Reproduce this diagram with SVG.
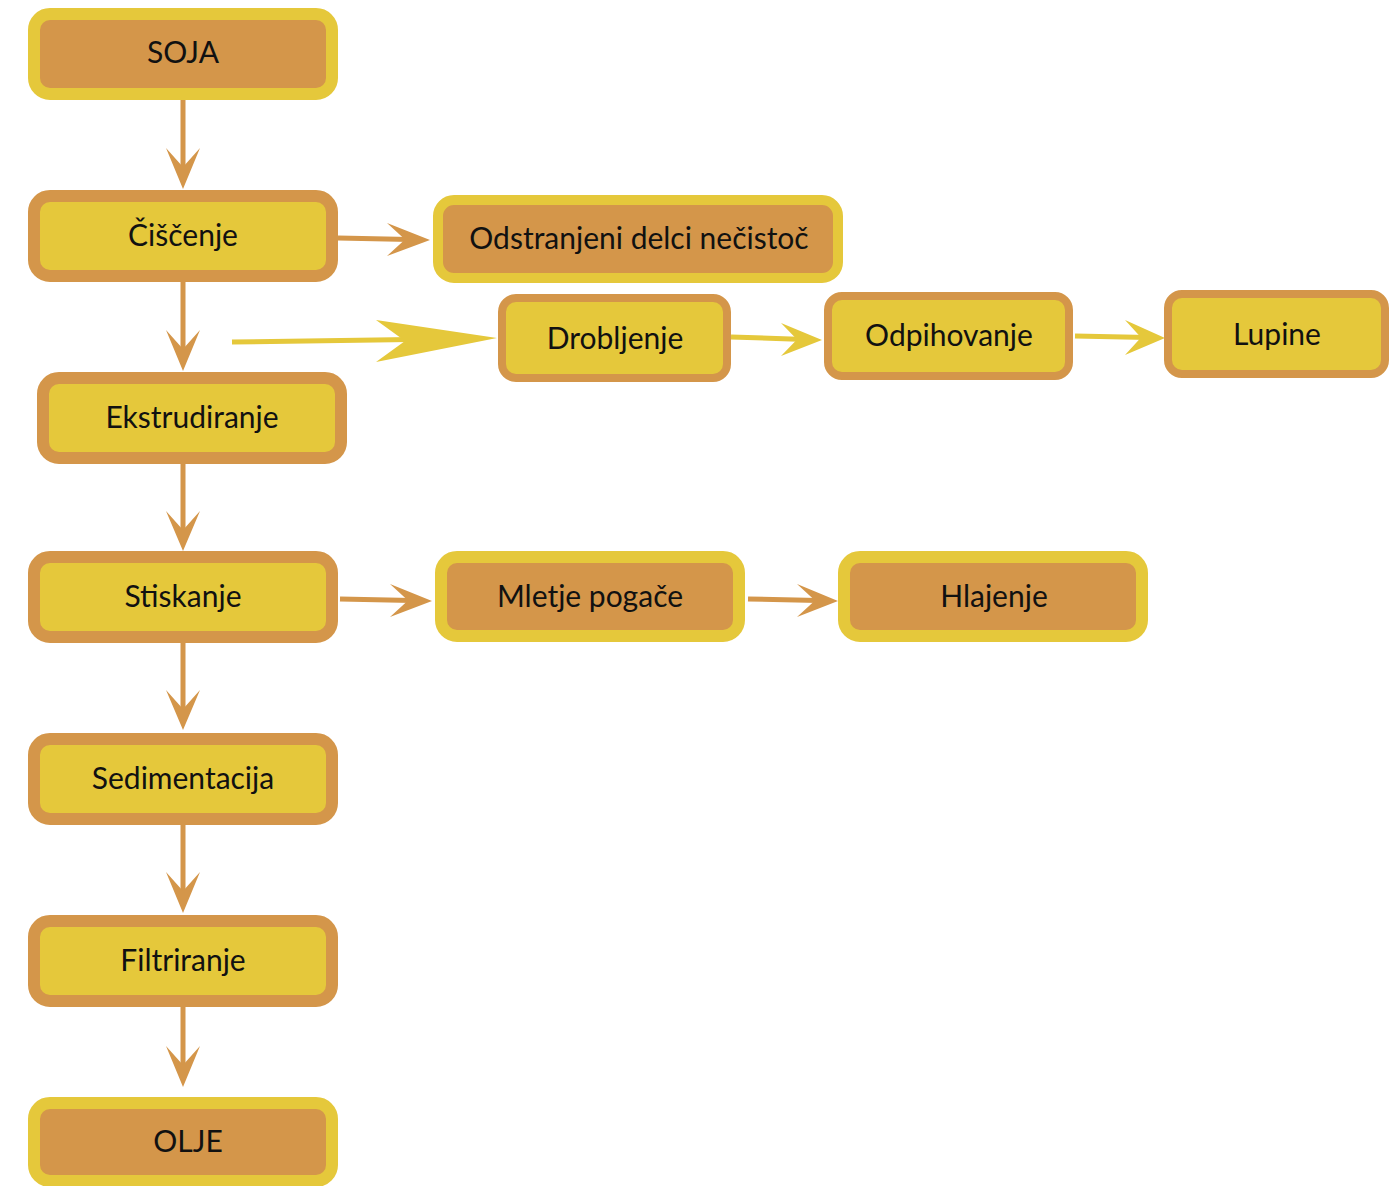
<svg xmlns="http://www.w3.org/2000/svg" width="1395" height="1186" viewBox="0 0 1395 1186">
<style>
.a{fill:#E5C83B;stroke:#D4964A}
.b{fill:#D4964A;stroke:#E5C83B}
rect{stroke-width:12}
text{font-family:Lato,"Open Sans","DejaVu Sans",sans-serif;font-size:30px;fill:#111;text-anchor:middle}
.lo{stroke:#D4964A;stroke-width:5;fill:none}
.ly{stroke:#E5C83B;stroke-width:5;fill:none}
.ho{fill:#D4964A}
.hy{fill:#E5C83B}
</style>
<rect width="1395" height="1186" fill="#fff" stroke="none"/>
<g id="connectors">
<path class="lo" d="M183 100V170M183 282V352M183 464V532M183 643V712M183 825V895M183 1007V1068"/>
<polygon class="ho" points="166,148 183,167 200,148 183,189"/>
<polygon class="ho" points="166,330 183,349 200,330 183,371"/>
<polygon class="ho" points="166,511 183,530 200,511 183,551"/>
<polygon class="ho" points="166,690 183,709 200,690 183,730"/>
<polygon class="ho" points="166,872 183,891 200,872 183,913"/>
<polygon class="ho" points="166,1046 183,1065 200,1046 183,1087"/>
<path class="lo" d="M338 238L410 239.5"/>
<polygon class="ho" points="387,223 405,239.5 387,256 430,240"/>
<path class="lo" d="M340 599L412 600.5"/>
<polygon class="ho" points="390,584 408,600.5 390,617 432,601"/>
<path class="lo" d="M748 599L818 600.5"/>
<polygon class="ho" points="797,584 815,600.5 797,617 838,601"/>
<path class="ly" d="M232 342L480 338.5"/>
<polygon class="hy" points="376,320 405,341 376,362 497,338"/>
<path class="ly" d="M731 337L805 339.5"/>
<polygon class="hy" points="781,323 797,339.5 781,356 822,340"/>
<path class="ly" d="M1075 336L1148 337.5"/>
<polygon class="hy" points="1125,320 1141,337.5 1125,355 1165,338"/>
</g>
<g id="n-soja"><rect class="b" x="34" y="14" width="298" height="80" rx="16"/><text x="183" y="63">SOJA</text></g>
<g id="n-ciscenje"><rect class="a" x="34" y="196" width="298" height="80" rx="16"/><text x="183" y="246">Čiščenje</text></g>
<g id="n-odstranjeni"><rect class="b" x="438" y="200" width="400" height="78" rx="16" style="stroke-width:10"/><text x="639" y="249">Odstranjeni delci nečistoč</text></g>
<g id="n-drobljenje"><rect class="a" x="502" y="298" width="225" height="80" rx="14" style="stroke-width:8"/><text x="615" y="349">Drobljenje</text></g>
<g id="n-odpihovanje"><rect class="a" x="828" y="296" width="241" height="80" rx="14" style="stroke-width:8"/><text x="949" y="346">Odpihovanje</text></g>
<g id="n-lupine"><rect class="a" x="1168" y="294" width="217" height="80" rx="14" style="stroke-width:8"/><text x="1277" y="345">Lupine</text></g>
<g id="n-ekstrudiranje"><rect class="a" x="43" y="378" width="298" height="80" rx="16"/><text x="192" y="428">Ekstrudiranje</text></g>
<g id="n-stiskanje"><rect class="a" x="34" y="557" width="298" height="80" rx="16"/><text x="183" y="607">Stiskanje</text></g>
<g id="n-mletje"><rect class="b" x="441" y="557" width="298" height="79" rx="16"/><text x="590" y="607">Mletje pogače</text></g>
<g id="n-hlajenje"><rect class="b" x="844" y="557" width="298" height="79" rx="16"/><text x="994" y="607">Hlajenje</text></g>
<g id="n-sedimentacija"><rect class="a" x="34" y="739" width="298" height="80" rx="16"/><text x="183" y="789">Sedimentacija</text></g>
<g id="n-filtriranje"><rect class="a" x="34" y="921" width="298" height="80" rx="16"/><text x="183" y="971">Filtriranje</text></g>
<g id="n-olje"><rect class="b" x="34" y="1103" width="298" height="78" rx="16"/><text x="188" y="1152">OLJE</text></g>
</svg>
